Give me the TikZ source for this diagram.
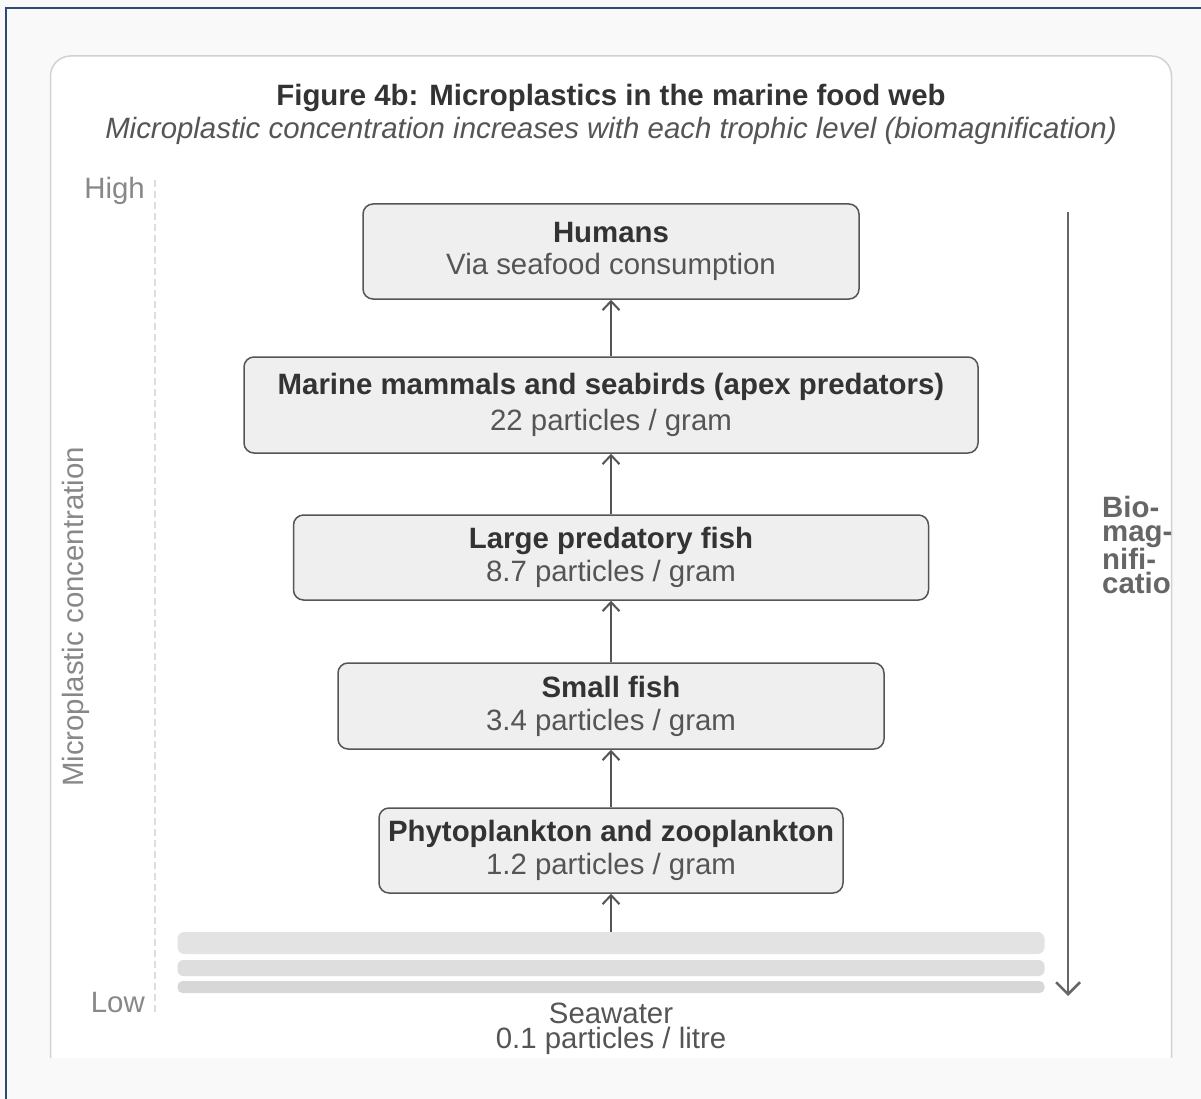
\documentclass[tikz,border=0pt]{standalone}
\usepackage{fontspec}
\setmainfont{Liberation Sans}
\usetikzlibrary{arrows.meta}
\definecolor{navy}{HTML}{2C4A78}
\definecolor{bgc}{HTML}{F9F9F9}
\definecolor{cardline}{HTML}{D2D2D2}
\definecolor{boxfill}{HTML}{EFEFEF}
\definecolor{boxline}{HTML}{555555}
\definecolor{dk}{HTML}{333333}
\definecolor{md}{HTML}{555555}
\definecolor{lt}{HTML}{888888}
\definecolor{biocol}{HTML}{666666}
\definecolor{dashcol}{HTML}{DDDDDD}
\definecolor{bandA}{HTML}{E3E3E3}
\definecolor{bandB}{HTML}{DEDEDE}
\definecolor{bandC}{HTML}{D7D7D7}
\begin{document}
\begin{tikzpicture}[x=1pt,y=-1pt,
  every node/.style={font=\fontsize{29.4}{34}\selectfont},
  levelbox/.style={draw=boxline, line width=1.5pt, fill=boxfill, rounded corners=10pt,
    align=center, text=dk, inner sep=0pt},
  bandbox/.style={draw=none, inner sep=0pt, minimum width=867pt},
  flow/.style={draw=boxline, line width=2pt, -{Straight Barb[length=9pt,width=17pt,line width=2pt]}},
  axislbl/.style={text=lt, inner sep=0pt}
]
\useasboundingbox (0,0) rectangle (1201,1099);
\fill[bgc] (0,0) rectangle (1201,1099);
% outer frame (left and top)
\draw[navy, line width=2.5pt] (6,1099) -- (6,8) -- (1201,8);
% card
\begin{scope}
  \clip (0,0) rectangle (1201,1057.5);
  \draw[cardline, fill=white, line width=1.5pt, rounded corners=20pt] (50.5,56) rectangle (1171.5,1120);
\end{scope}

% titles
\node[text=dk, font=\fontsize{29.4}{34}\selectfont\bfseries] (title) at (611,98) {Figure 4b: Microplastics in the marine food web};
\node[text=md, font=\fontsize{29.4}{34}\selectfont\itshape] (subtitle) at (611,131) {Microplastic concentration increases with each trophic level (biomagnification)};

% axis
\coordinate (dtop) at (155,180);
\coordinate (dbot) at (155,1015);
\draw[dashcol, line width=1.5pt, dash pattern=on 7pt off 4pt] (dtop) -- (dbot);
\node[axislbl, anchor=east] (high) at (145,191) {High};
\node[axislbl, anchor=east] (low) at (145,1003) {Low};
\node[axislbl, rotate=90] (axlabel) at (76,617) {Microplastic concentration};

% levels
\node[levelbox, minimum width=496pt, minimum height=95pt] (hum) at (611,251.5)
  {\textbf{Humans}\\[-2pt]{\color{md}Via seafood consumption}};
\node[levelbox, minimum width=734pt, minimum height=96pt] (mam) at (611,405)
  {\textbf{Marine mammals and seabirds (apex predators)}\\[2pt]{\color{md}22 particles / gram}};
\node[levelbox, minimum width=635pt, minimum height=85pt] (lpf) at (611,557.5)
  {\textbf{Large predatory fish}\\[-1pt]{\color{md}8.7 particles / gram}};
\node[levelbox, minimum width=546pt, minimum height=86pt] (sf) at (611,706)
  {\textbf{Small fish}\\[-1pt]{\color{md}3.4 particles / gram}};
\node[levelbox, minimum width=464pt, minimum height=85pt] (phy) at (611,850.5)
  {\textbf{Phytoplankton and zooplankton}\\[-1pt]{\color{md}1.2 particles / gram}};

% seawater bands
\node[bandbox, fill=bandA, minimum height=22pt, rounded corners=7pt] (sw1) at (611,943) {};
\node[bandbox, fill=bandB, minimum height=16pt, rounded corners=6pt] (sw2) at (611,968) {};
\node[bandbox, fill=bandC, minimum height=12pt, rounded corners=5pt] (sw3) at (611,987) {};
\node[text=md, align=center, inner sep=0pt, font=\fontsize{29.4}{25}\selectfont] (swlbl) at (611,1029)
  {Seawater\\0.1 particles / litre};

% flows
\draw[flow] (sw1.north) -- (phy.south);
\draw[flow] (phy.north) -- (sf.south);
\draw[flow] (sf.north) -- (lpf.south);
\draw[flow] (lpf.north) -- (mam.south);
\draw[flow] (mam.north) -- (hum.south);

% biomagnification arrow
\coordinate (btop) at (1068,212);
\coordinate (bbot) at (1068,996);
\draw[biocol, line width=2.5pt, -{Straight Barb[length=12pt,width=24pt,line width=2.5pt]}] (btop) -- (bbot);
\begin{scope}
  \clip (1080,450) rectangle (1171,650);
  \node[anchor=north west, inner sep=0pt, align=left, text=biocol,
    font=\fontsize{29.4}{23.5}\selectfont\bfseries] (biolbl) at (1102,496)
    {Bio-\\mag-\\nifi-\\cation};
\end{scope}
\end{tikzpicture}
\end{document}
